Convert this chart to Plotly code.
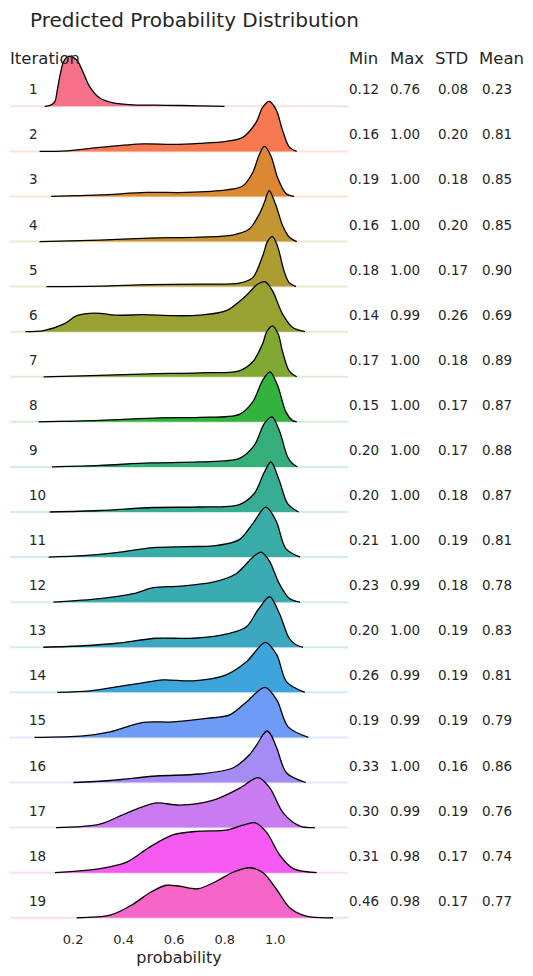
import plotly.graph_objects as go

# ---- data ------------------------------------------------------------------
ITERATIONS = list(range(1, 20))
STAT_MIN = [0.12, 0.16, 0.19, 0.16, 0.18, 0.14, 0.17, 0.15, 0.20, 0.20,
            0.21, 0.23, 0.20, 0.26, 0.19, 0.33, 0.30, 0.31, 0.46]
STAT_MAX = [0.76, 1.00, 1.00, 1.00, 1.00, 0.99, 1.00, 1.00, 1.00, 1.00,
            1.00, 0.99, 1.00, 0.99, 0.99, 1.00, 0.99, 0.98, 0.98]
STAT_STD = [0.08, 0.20, 0.18, 0.20, 0.17, 0.26, 0.18, 0.17, 0.17, 0.18,
            0.19, 0.18, 0.19, 0.19, 0.19, 0.16, 0.19, 0.17, 0.17]
STAT_MEAN = [0.23, 0.81, 0.85, 0.85, 0.90, 0.69, 0.89, 0.87, 0.88, 0.87,
             0.81, 0.78, 0.83, 0.81, 0.79, 0.86, 0.76, 0.74, 0.77]

# kde curve per iteration: probability values and relative density (peak ~ 1)
DENSITY_X = [
    [0.087, 0.109, 0.127, 0.137, 0.148, 0.161, 0.175, 0.188, 0.215, 0.241, 0.267, 0.307, 0.358, 0.437, 0.569, 0.70, 0.799],
    [0.067, 0.175, 0.306, 0.477, 0.595, 0.70, 0.806, 0.871, 0.924, 0.95, 0.976, 1.003, 1.029, 1.055, 1.085],
    [0.113, 0.306, 0.49, 0.648, 0.806, 0.871, 0.911, 0.937, 0.957, 0.983, 1.009, 1.042, 1.075],
    [0.067, 0.306, 0.503, 0.70, 0.832, 0.897, 0.937, 0.957, 0.976, 1.003, 1.029, 1.055, 1.085],
    [0.094, 0.306, 0.503, 0.70, 0.858, 0.911, 0.95, 0.970, 0.989, 1.009, 1.035, 1.055, 1.082],
    [0.011, 0.083, 0.162, 0.215, 0.287, 0.372, 0.477, 0.595, 0.70, 0.806, 0.884, 0.93, 0.959, 0.989, 1.029, 1.068, 1.118],
    [0.083, 0.306, 0.503, 0.70, 0.858, 0.911, 0.95, 0.966, 0.989, 1.012, 1.029, 1.055, 1.085],
    [0.063, 0.306, 0.543, 0.70, 0.858, 0.911, 0.95, 0.979, 1.009, 1.042, 1.068, 1.085],
    [0.116, 0.306, 0.503, 0.70, 0.858, 0.917, 0.957, 0.987, 1.016, 1.049, 1.068, 1.088],
    [0.107, 0.306, 0.517, 0.70, 0.858, 0.917, 0.957, 0.983, 1.016, 1.049, 1.092],
    [0.103, 0.241, 0.372, 0.517, 0.648, 0.766, 0.858, 0.911, 0.963, 1.003, 1.042, 1.098],
    [0.122, 0.306, 0.438, 0.517, 0.622, 0.753, 0.845, 0.911, 0.944, 0.976, 1.016, 1.055, 1.098],
    [0.082, 0.241, 0.372, 0.530, 0.675, 0.820, 0.886, 0.932, 0.978, 1.016, 1.055, 1.082, 1.11],
    [0.137, 0.267, 0.372, 0.463, 0.555, 0.675, 0.806, 0.886, 0.961, 1.006, 1.045, 1.117],
    [0.047, 0.241, 0.346, 0.477, 0.595, 0.728, 0.820, 0.886, 0.959, 1.006, 1.051, 1.131],
    [0.201, 0.346, 0.530, 0.70, 0.832, 0.899, 0.930, 0.952, 0.967, 0.982, 1.006, 1.045, 1.121],
    [0.132, 0.306, 0.412, 0.524, 0.622, 0.755, 0.860, 0.933, 0.979, 1.032, 1.098, 1.157],
    [0.128, 0.306, 0.412, 0.503, 0.597, 0.70, 0.806, 0.872, 0.919, 0.965, 1.018, 1.071, 1.164],
    [0.214, 0.346, 0.437, 0.503, 0.569, 0.622, 0.694, 0.767, 0.833, 0.899, 0.952, 1.005, 1.057, 1.123, 1.229],
]
DENSITY_Y = [
    [0, 0.02, 0.09, 0.32, 0.62, 0.88, 0.98, 1.0, 0.92, 0.66, 0.38, 0.16, 0.07, 0.03, 0.02, 0.01, 0],
    [0, 0.01, 0.08, 0.15, 0.14, 0.16, 0.2, 0.28, 0.58, 0.88, 1.0, 0.84, 0.42, 0.09, 0],
    [0, 0.03, 0.08, 0.08, 0.13, 0.21, 0.48, 0.84, 1.0, 0.81, 0.38, 0.06, 0],
    [0, 0.03, 0.07, 0.09, 0.13, 0.25, 0.55, 0.78, 1.02, 0.72, 0.32, 0.09, 0],
    [0, 0.01, 0.04, 0.05, 0.07, 0.18, 0.61, 0.91, 1.0, 0.81, 0.31, 0.08, 0],
    [0, 0.02, 0.15, 0.32, 0.37, 0.33, 0.34, 0.32, 0.33, 0.42, 0.72, 0.95, 1.0, 0.82, 0.35, 0.09, 0],
    [0, 0.03, 0.06, 0.08, 0.12, 0.3, 0.66, 0.9, 1.02, 0.85, 0.5, 0.12, 0],
    [0, 0.03, 0.08, 0.09, 0.15, 0.4, 0.83, 1.0, 0.73, 0.2, 0.03, 0],
    [0, 0.03, 0.08, 0.1, 0.17, 0.43, 0.87, 1.0, 0.73, 0.2, 0.07, 0],
    [0, 0.03, 0.09, 0.1, 0.15, 0.37, 0.8, 1.0, 0.63, 0.17, 0],
    [0, 0.03, 0.09, 0.19, 0.21, 0.23, 0.35, 0.67, 1.0, 0.73, 0.17, 0],
    [0, 0.07, 0.17, 0.29, 0.32, 0.4, 0.57, 0.9, 1.0, 0.83, 0.37, 0.08, 0],
    [0, 0.03, 0.08, 0.18, 0.18, 0.28, 0.41, 0.75, 1.01, 0.68, 0.18, 0.05, 0],
    [0, 0.03, 0.11, 0.18, 0.25, 0.23, 0.35, 0.61, 1.0, 0.75, 0.21, 0],
    [0, 0.03, 0.11, 0.3, 0.31, 0.38, 0.45, 0.71, 1.0, 0.75, 0.21, 0],
    [0, 0.04, 0.13, 0.17, 0.29, 0.56, 0.78, 0.96, 1.03, 0.96, 0.69, 0.19, 0],
    [0, 0.07, 0.29, 0.49, 0.45, 0.55, 0.79, 1.0, 0.79, 0.29, 0.03, 0],
    [0, 0.08, 0.21, 0.51, 0.76, 0.83, 0.85, 0.95, 1.0, 0.81, 0.35, 0.08, 0],
    [0, 0.05, 0.27, 0.5, 0.65, 0.63, 0.58, 0.73, 0.91, 1.0, 0.9, 0.57, 0.2, 0.03, 0],
]
X_TICKS = [0.2, 0.4, 0.6, 0.8, 1.0]

# husl-like palette, one per iteration
COLORS = ["#f7718a", "#f67952", "#dc8832", "#c49533", "#ad9c32", "#98a232", "#80a933",
          "#34b23e", "#35ae7b", "#37ad94", "#38aca6", "#39abb1", "#3ba8c0", "#3da5dc",
          "#6e9bf4", "#a58bf4", "#ca7bf2", "#f55bf0", "#f566c8"]

# ---- layout constants (pixels on the 533x976 page) -------------------------
PAGE_W, PAGE_H = 533, 976
OFF = 8                      # browser body margin around the figure
W, H = PAGE_W - OFF, PAGE_H - OFF
ROW_PX = 45.08               # distance between baselines
FIRST_BASE_PX = 106.3        # baseline of iteration 1
PLOT_LEFT, PLOT_RIGHT = 10, 348
PLOT_TOP, PLOT_BOTTOM = 30, 925
PEAK_H = 50 / ROW_PX         # peak height in row units
X_RANGE = [-0.05, 1.288]
TEXT = "#262626"
FONT = "DejaVu Sans"


def px_x(p):
    return (p - OFF) / W


def px_y(p):
    return 1 - (p - OFF) / H


def px_to_row(p):
    return (FIRST_BASE_PX - p) / ROW_PX


def hex_rgba(h, a):
    h = h.lstrip("#")
    return "rgba(%d,%d,%d,%.2f)" % (int(h[0:2], 16), int(h[2:4], 16), int(h[4:6], 16), a)


fig = go.Figure()

for i, it in enumerate(ITERATIONS):
    base = -i
    # light reference line
    fig.add_trace(go.Scatter(
        x=X_RANGE, y=[base, base], mode="lines",
        line=dict(color=hex_rgba(COLORS[i], 0.22), width=2),
        hoverinfo="skip", showlegend=False,
    ))
    fig.add_trace(go.Scatter(
        x=DENSITY_X[i], y=[base + v * PEAK_H for v in DENSITY_Y[i]],
        mode="lines", fill="toself", fillcolor=COLORS[i],
        line=dict(color="black", width=1.3, shape="spline", smoothing=0.9),
        name=str(it), showlegend=False,
    ))

annotations = []
label_dy = 17 / ROW_PX
stat_cols = [(STAT_MIN, 349), (STAT_MAX, 390), (STAT_STD, 437.5), (STAT_MEAN, 481.5)]
for i, it in enumerate(ITERATIONS):
    y = -i + label_dy
    annotations.append(dict(x=px_x(27), y=y, xref="paper", yref="y", text=str(it),
                            showarrow=False, xanchor="left", yanchor="middle",
                            font=dict(size=13.5, color=TEXT)))
    for vals, px in stat_cols:
        annotations.append(dict(x=px_x(px - 2), y=y, xref="paper", yref="y",
                                text="%.2f" % vals[i], showarrow=False,
                                xanchor="left", yanchor="middle",
                                font=dict(size=13.5, color=TEXT)))

for txt, px in [("Iteration", 10), ("Min", 349), ("Max", 390), ("STD", 435), ("Mean", 479)]:
    annotations.append(dict(x=px_x(px - 2), y=px_y(59), xref="paper", yref="paper", text=txt,
                            showarrow=False, xanchor="left", yanchor="middle",
                            font=dict(size=16.5, color=TEXT)))

fig.update_layout(
    width=W, height=H,
    margin=dict(l=0, r=0, t=0, b=0),
    paper_bgcolor="white", plot_bgcolor="white",
    font=dict(family=FONT, color=TEXT),
    title=dict(text="Predicted Probability Distribution", x=px_x(30), xanchor="left",
               y=px_y(20), yanchor="middle", font=dict(size=20, color=TEXT)),
    xaxis=dict(domain=[px_x(PLOT_LEFT), px_x(PLOT_RIGHT)], range=X_RANGE, tickvals=X_TICKS,
               ticktext=["%.1f" % t for t in X_TICKS], showgrid=False, zeroline=False,
               showline=False, ticks="outside", ticklen=2, tickcolor="rgba(0,0,0,0)",
               tickfont=dict(size=13, color=TEXT),
               title=dict(text="probability", font=dict(size=16, color=TEXT), standoff=6)),
    yaxis=dict(domain=[px_y(PLOT_BOTTOM), px_y(PLOT_TOP)],
               range=[px_to_row(PLOT_BOTTOM), px_to_row(PLOT_TOP)], visible=False),
    annotations=annotations,
)

fig.write_html("out.html")
